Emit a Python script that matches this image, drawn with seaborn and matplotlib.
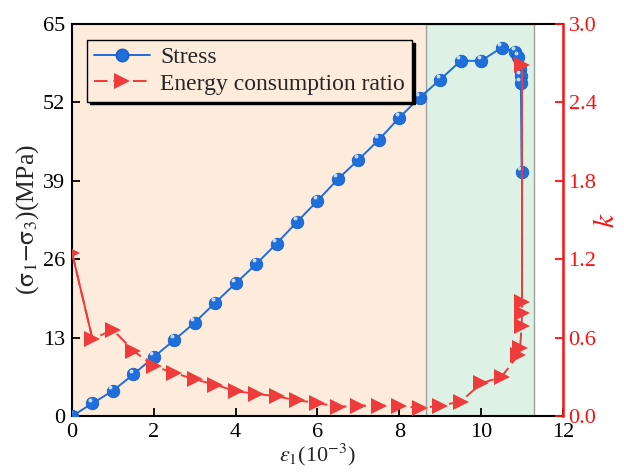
import numpy as np
import pandas as pd
import matplotlib
matplotlib.use("Agg")
import matplotlib.pyplot as plt
import seaborn as sns
from matplotlib.lines import Line2D

# ---- data ----
strain_stress = [0, 0.5, 1.0, 1.5, 2.0, 2.5, 3.0, 3.5, 4.0, 4.5, 5.0, 5.5, 6.0, 6.5, 7.0,
                 7.5, 8.0, 8.5, 9.0, 9.5, 10.0, 10.5, 10.83, 10.91, 10.94, 10.97, 10.97, 10.99]
stress = [0, 2.1, 4.2, 6.9, 9.8, 12.6, 15.5, 18.8, 22.0, 25.2, 28.6, 32.2, 35.7, 39.3, 42.5,
          45.8, 49.5, 52.8, 55.8, 58.9, 58.9, 61.1, 60.4, 59.6, 57.5, 56.4, 55.3, 40.5]

strain_k = [0, 0.5, 1.0, 1.5, 2.0, 2.5, 3.0, 3.5, 4.0, 4.5, 5.0, 5.5, 6.0, 6.5, 7.0,
            7.5, 8.0, 8.5, 9.0, 9.5, 10.0, 10.5, 10.91, 10.95, 10.99, 11.0, 11.0, 11.0]
k_ratio = [1.25, 0.59, 0.66, 0.50, 0.38, 0.33, 0.28, 0.24, 0.19, 0.17, 0.15, 0.12, 0.10, 0.07,
           0.08, 0.08, 0.08, 0.06, 0.08, 0.11, 0.25, 0.30, 0.47, 0.52, 0.69, 0.79, 0.87, 2.69]

stage_edges = [0, 8.65, 11.3]
stage_colors = ["#FDEBDC", "#DDF2E5"]

x_ticks = [0, 2, 4, 6, 8, 10, 12]
y_ticks = [0, 13, 26, 39, 52, 65]
k_ticks = [0.0, 0.6, 1.2, 1.8, 2.4, 3.0]

BLUE = "#1E6EDC"
RED = "#EE3B3B"
AXRED = "#FF1010"

sns.set_theme(style="ticks")
plt.rcParams["font.family"] = ["Liberation Serif", "DejaVu Serif"]
plt.rcParams["mathtext.fontset"] = "stix"
plt.rcParams["xtick.direction"] = "in"
plt.rcParams["ytick.direction"] = "in"

fig = plt.figure(figsize=(6.24, 4.72), dpi=100)
ax = fig.add_axes([0.1154, 0.1186, 0.7868, 0.8304])
ax2 = ax.twinx()

# background stages
ax.axvspan(stage_edges[0], stage_edges[1], color=stage_colors[0], zorder=0, lw=0)
ax.axvspan(stage_edges[1], stage_edges[2], facecolor=stage_colors[1], edgecolor="#A0A0A0",
           lw=1.0, zorder=0)

df_s = pd.DataFrame({"x": strain_stress, "y": stress})
df_k = pd.DataFrame({"x": strain_k, "y": k_ratio})

sns.lineplot(data=df_s, x="x", y="y", ax=ax, color=BLUE, lw=1.4, marker="o", markersize=9,
             markerfacecolor=BLUE, markeredgecolor="#1A5FC0", markeredgewidth=0.6,
             estimator=None, sort=False, zorder=3, legend=False)
# highlight on spheres
ax.scatter(np.array(strain_stress) - 0.06, np.array(stress) + 0.6, s=8, color="white",
           alpha=0.75, lw=0, zorder=4)

# k line: dashed middle, solid first and last segments
sns.lineplot(data=df_k, x="x", y="y", ax=ax2, color=RED, lw=1.4, estimator=None, sort=False,
             zorder=3, legend=False)
ax2.lines[-1].set_linestyle((0, (7, 3)))
sns.lineplot(data=df_k.iloc[:2], x="x", y="y", ax=ax2, color=RED, lw=1.4, estimator=None,
             sort=False, legend=False, zorder=3)
sns.lineplot(data=df_k.iloc[-2:], x="x", y="y", ax=ax2, color=RED, lw=1.4, estimator=None,
             sort=False, legend=False, zorder=3)
ax2.plot(strain_k, k_ratio, ls="none", marker=">", markersize=11, color=RED,
         markeredgewidth=0, zorder=4)

ax.set_xlim(0, 12)
ax.set_ylim(0, 65)
ax2.set_ylim(0, 3.0)
ax.set_xticks(x_ticks)
ax.set_yticks(y_ticks)
ax2.set_yticks(k_ticks)
ax2.set_yticklabels([f"{v:.1f}" for v in k_ticks])

ax.tick_params(axis="both", labelsize=16, length=6, width=1.3, colors="black", pad=5)
ax2.tick_params(axis="y", labelsize=16, length=6, width=1.3, colors=AXRED, pad=4)

for side in ["left", "bottom", "top"]:
    ax.spines[side].set_linewidth(1.5)
    ax.spines[side].set_color("black")
ax.spines["right"].set_visible(False)
ax2.spines["right"].set_color(AXRED)
ax2.spines["right"].set_linewidth(1.8)
for side in ["left", "bottom", "top"]:
    ax2.spines[side].set_visible(False)

ax.set_xlabel(r"$\varepsilon_1$(10$^{-3}$)", fontsize=16, labelpad=0)
ax.set_ylabel(r"($\mathrm{\sigma}_1$$-$$\mathrm{\sigma}_3$)(MPa)", fontsize=18.5, labelpad=1)
ax2.set_ylabel(r"$k$", fontsize=21, color=AXRED, labelpad=-2)

# legend
handles = [
    Line2D([], [], color=BLUE, lw=1.4, marker="o", markersize=9, markerfacecolor=BLUE,
           markeredgecolor="#1A5FC0"),
    Line2D([], [], color=RED, lw=1.4, ls=(0, (7, 3)), marker=">", markersize=11,
           markeredgewidth=0),
]
leg = ax.legend(handles, ["Stress", "Energy consumption ratio"], loc="upper left",
                bbox_to_anchor=(0.03, 0.96), fontsize=17, frameon=True, fancybox=False,
                edgecolor="black", framealpha=1, facecolor=stage_colors[0],
                shadow={"color": "black", "alpha": 1}, handlelength=2.4,
                borderpad=0.3, labelspacing=0.2, handletextpad=0.4, borderaxespad=0)
leg.get_frame().set_linewidth(1.0)
leg.remove()
ax2.add_artist(leg)

fig.savefig("out.png", dpi=100)
